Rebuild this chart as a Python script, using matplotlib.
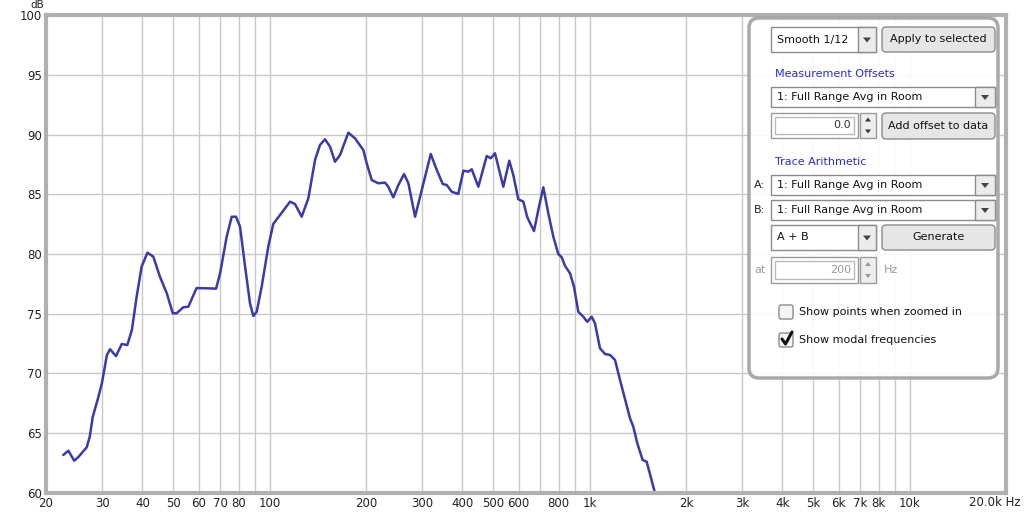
import matplotlib
matplotlib.use('Agg')
import matplotlib.pyplot as plt
from matplotlib.patches import FancyBboxPatch, Rectangle, Polygon
from matplotlib.ticker import FixedLocator, NullFormatter

# frequency response (Hz, dB)
freq = [22.65, 23.5, 24.5, 25.2, 26.8, 27.4, 28.0, 29.1, 29.9, 31.0, 31.7, 33.1,
        34.5, 35.9, 37.1, 38.4, 39.8, 41.5, 43.3, 45.4, 47.7, 49.8, 51.2, 53.7,
        55.7, 59.1, 63.6, 68.0, 70.0, 73.4, 76.1, 78.5, 80.8, 83.8, 86.8, 88.9,
        91.1, 94.4, 99.0, 102.6, 107.7, 115.8, 120.0, 125.9, 132.1, 138.6, 143.6,
        148.9, 154.4, 160.0, 165.9, 176.1, 184.8, 196.2, 201.0, 208.4, 218.4,
        229.4, 234.8, 243.4, 252.4, 263.0, 271.3, 284.7, 298.8, 318.7, 332.8,
        347.4, 357.6, 370.7, 388.6, 403.0, 417.7, 428.0, 448.8, 476.8, 490.7,
        506.0, 537.3, 560.8, 577.2, 598.4, 620.4, 638.4, 669.9, 690.9, 716.4,
        742.6, 769.8, 798.0, 817.8, 837.6, 868.3, 893.4, 921.4, 955.2, 983.0,
        1014.6, 1039, 1077, 1117, 1158, 1200, 1244, 1290, 1337, 1369, 1409,
        1464, 1507, 1600]
db = [63.18, 63.54, 62.70, 62.99, 63.82, 64.71, 66.38, 67.95, 69.18, 71.55, 72.03,
      71.46, 72.47, 72.38, 73.64, 76.43, 78.94, 80.11, 79.77, 78.10, 76.71, 75.04,
      75.04, 75.54, 75.59, 77.15, 77.13, 77.10, 78.38, 81.45, 83.12, 83.12, 82.28,
      78.94, 75.87, 74.81, 75.17, 77.26, 80.61, 82.51, 83.26, 84.38, 84.18, 83.12,
      84.66, 87.87, 89.12, 89.60, 88.98, 87.72, 88.28, 90.15, 89.68, 88.70, 87.59,
      86.19, 85.92, 85.97, 85.63, 84.74, 85.77, 86.69, 85.92, 83.12, 85.36, 88.37,
      87.03, 85.86, 85.77, 85.21, 85.02, 86.97, 86.89, 87.09, 85.63, 88.20, 88.01,
      88.43, 85.63, 87.81, 86.61, 84.58, 84.38, 83.07, 81.92, 83.68, 85.58, 83.41,
      81.45, 80.00, 79.72, 79.00, 78.38, 77.26, 75.17, 74.75, 74.33, 74.75, 74.20,
      72.11, 71.63, 71.55, 71.13, 69.46, 67.84, 66.25, 65.55, 64.16, 62.76, 62.62,
      60.0]

x_ticks = [20, 30, 40, 50, 60, 70, 80, 100, 200, 300, 400, 500, 600, 800,
           1000, 2000, 3000, 4000, 5000, 6000, 7000, 8000, 10000]
x_labels = ['20', '30', '40', '50', '60', '70', '80', '100', '200', '300', '400',
            '500', '600', '800', '1k', '2k', '3k', '4k', '5k', '6k', '7k', '8k', '10k']
x_minor = [90, 700, 900, 9000]
y_ticks = [60, 65, 70, 75, 80, 85, 90, 95, 100]

W, H = 1024, 514
fig = plt.figure(figsize=(W / 100, H / 100), dpi=100)
fig.patch.set_facecolor('white')

ax = fig.add_axes([46 / W, 21 / H, 960 / W, 478 / H])
ax.set_xscale('log')
ax.set_xlim(20, 20000)
ax.set_ylim(60, 100)
ax.set_xticks(x_ticks)
ax.set_xticklabels(x_labels)
ax.xaxis.set_minor_locator(FixedLocator(x_minor))
ax.xaxis.set_minor_formatter(NullFormatter())
ax.set_yticks(y_ticks)
ax.grid(True, which='both', color='#c8c8c8', lw=1)
ax.set_axisbelow(True)
ax.tick_params(which='both', length=0, labelsize=8.5, colors='#222222', pad=3)
for s in ax.spines.values():
    s.set_color('#b0b0b0')
    s.set_linewidth(3)
ax.plot(freq, db, color='#3a3aa8', lw=1.8, solid_joinstyle='round', solid_capstyle='round')

fig.text(37 / W, 1, 'dB', ha='center', va='top', fontsize=7.5, color='#222222')
fig.text(1021 / W, 1 - 503 / H, '20.0k Hz', ha='right', va='center', fontsize=8.5, color='#222222')

# overlay in pixel coordinates for the control panel
ov = fig.add_axes([0, 0, 1, 1], zorder=5)
ov.set_xlim(0, W)
ov.set_ylim(H, 0)
ov.axis('off')

FS = 8
BLUE = '#2b2bd0'
GREY_TXT = '#9a9a9a'


def rbox(x0, y0, x1, y1, fc='white', ec='#8c8c8c', r=3, lw=1, alpha=1):
    ov.add_patch(FancyBboxPatch((x0, y0), x1 - x0, y1 - y0,
                                boxstyle='round,pad=0,rounding_size=%s' % r,
                                fc=fc, ec=ec, lw=lw, alpha=alpha))


def arrow(cx, cy, col='#444444'):
    ov.add_patch(Polygon([[cx - 4, cy - 2], [cx + 4, cy - 2], [cx, cy + 3]], closed=True,
                         fc=col, ec='none'))


def combo(x0, y0, x1, y1, label, split):
    ov.add_patch(Rectangle((x0, y0), x1 - x0, y1 - y0, fc='white', ec='#8c8c8c', lw=1))
    ov.add_patch(Rectangle((split, y0), x1 - split, y1 - y0, fc='#ececec', ec='#8c8c8c', lw=1))
    arrow((split + x1) / 2, (y0 + y1) / 2)
    ov.text(x0 + 6, (y0 + y1) / 2, label, ha='left', va='center', fontsize=FS, color='#111111')


def button(x0, y0, x1, y1, label):
    rbox(x0, y0, x1, y1, fc='#e6e6e6', ec='#8a8a8a', r=4)
    ov.text((x0 + x1) / 2, (y0 + y1) / 2, label, ha='center', va='center', fontsize=FS,
            color='#111111')


def spinner(x0, y0, x1, y1, value, split, col):
    ov.add_patch(Rectangle((x0, y0), split - x0, y1 - y0, fc='white', ec='#9a9a9a', lw=1))
    ov.add_patch(Rectangle((x0 + 4, y0 + 4), split - x0 - 8, y1 - y0 - 8, fc='white',
                           ec='#b8b8b8', lw=1))
    ov.add_patch(Rectangle((split + 2, y0), x1 - split - 2, y1 - y0, fc='#eeeeee',
                           ec='#9a9a9a', lw=1))
    my = (y0 + y1) / 2
    cx = (split + 2 + x1) / 2
    ov.add_patch(Polygon([[cx - 3, my - 4], [cx + 3, my - 4], [cx, my - 8]], fc=col, ec='none'))
    ov.add_patch(Polygon([[cx - 3, my + 4], [cx + 3, my + 4], [cx, my + 8]], fc=col, ec='none'))
    ov.text(split - 7, my, value, ha='right', va='center', fontsize=FS, color=col)


# panel
rbox(749, 18, 998, 378, fc='white', ec='#a0a0a0', r=10, lw=2.5, alpha=0.9)

combo(771, 27, 876, 52, 'Smooth 1/12', 858)
button(882, 27, 995, 52, 'Apply to selected')

ov.text(775, 74, 'Measurement Offsets', ha='left', va='center', fontsize=FS, color=BLUE)
combo(771, 87, 995, 107, '1: Full Range Avg in Room', 975)
spinner(771, 113, 876, 138, '0.0', 858, '#333333')
button(882, 113, 995, 139, 'Add offset to data')

ov.text(775, 162, 'Trace Arithmetic', ha='left', va='center', fontsize=FS, color=BLUE)
ov.text(754, 185, 'A:', ha='left', va='center', fontsize=FS, color='#222222')
combo(771, 175, 995, 195, '1: Full Range Avg in Room', 975)
ov.text(754, 210, 'B:', ha='left', va='center', fontsize=FS, color='#222222')
combo(771, 200, 995, 220, '1: Full Range Avg in Room', 975)
combo(771, 225, 876, 250, 'A + B', 858)
button(882, 225, 995, 250, 'Generate')

ov.text(754, 270, 'at', ha='left', va='center', fontsize=FS, color=GREY_TXT)
spinner(771, 257, 876, 283, '200', 858, GREY_TXT)
ov.text(884, 270, 'Hz', ha='left', va='center', fontsize=FS, color=GREY_TXT)

rbox(779, 305, 793, 319, fc='#f4f4f4', ec='#8c8c8c', r=2)
ov.text(799, 312, 'Show points when zoomed in', ha='left', va='center', fontsize=FS,
        color='#111111')
rbox(779, 333, 793, 347, fc='#f4f4f4', ec='#8c8c8c', r=2)
ov.plot([782, 785.5, 792], [339, 344, 332], color='#111111', lw=2.2,
        solid_capstyle='round', solid_joinstyle='round')
ov.text(799, 340, 'Show modal frequencies', ha='left', va='center', fontsize=FS,
        color='#111111')

fig.savefig('out.png', dpi=100)
